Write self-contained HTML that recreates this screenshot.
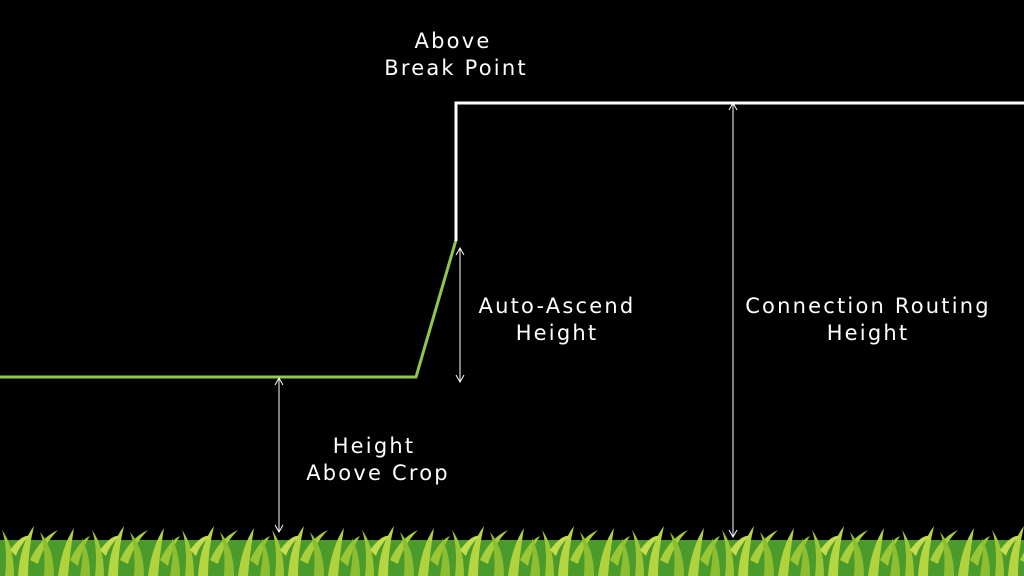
<!DOCTYPE html>
<html><head><style>
html,body{margin:0;padding:0;background:#000;}
svg{display:block}
text{font-family:"DejaVu Sans","Liberation Sans",sans-serif;font-size:21px;fill:#fff;text-anchor:middle;letter-spacing:2.2px}
</style></head><body>
<svg width="1024" height="576" viewBox="0 0 1024 576" xmlns="http://www.w3.org/2000/svg">
<defs>
<pattern id="grass" x="0" y="524" width="90" height="52" patternUnits="userSpaceOnUse">
<rect x="0" y="16" width="90" height="36" fill="#4a9a2c"/>
<path d="M5 52 Q8 24 2 6 Q14 22 14 52Z" fill="#9cc734"/>
<path d="M18 52 Q20 20 34 2 Q28 26 28 52Z" fill="#b6d641"/>
<path d="M30 36 Q40 14 58 6 Q44 20 38 40Z" fill="#a9cf3a"/>
<path d="M44 52 Q46 24 40 8 Q54 24 54 52Z" fill="#8dbd30"/>
<path d="M58 52 Q62 22 74 4 Q70 28 68 52Z" fill="#b0d33d"/>
<path d="M70 36 Q80 16 90 12 Q82 24 78 42Z" fill="#9cc734"/>
<path d="M80 52 Q84 28 82 14 Q90 30 90 52Z" fill="#8dbd30"/>
<path d="M10 26 Q22 10 30 12 Q20 20 16 32Z" fill="#c3dd4c"/>
</pattern>
</defs>
<rect width="1024" height="576" fill="#000"/>
<rect x="0" y="524" width="1024" height="52" fill="url(#grass)"/>
<polyline points="0,377 416,377 456,240" fill="none" stroke="#8fc848" stroke-width="3"/>
<polyline points="456,241 456,103 1024,103" fill="none" stroke="#fff" stroke-width="3"/>
<g stroke="#fff" stroke-width="1" fill="none">
<line x1="279" y1="378" x2="279" y2="532"/>
<polyline points="275,385 279,378 283,385"/><polyline points="275,525 279,532 283,525"/>
<line x1="460" y1="248" x2="460" y2="382"/>
<polyline points="456,255 460,248 464,255"/><polyline points="456,375 460,382 464,375"/>
<line x1="733" y1="103" x2="733" y2="537"/>
<polyline points="729,110 733,103 737,110"/><polyline points="729,530 733,537 737,530"/>
</g>
<text x="453" y="48">Above</text>
<text x="456" y="75">Break Point</text>
<text x="557" y="313">Auto-Ascend</text>
<text x="557" y="340">Height</text>
<text x="868" y="313">Connection Routing</text>
<text x="868" y="340">Height</text>
<text x="374" y="453">Height</text>
<text x="378" y="480">Above Crop</text>
</svg>
</body></html>
